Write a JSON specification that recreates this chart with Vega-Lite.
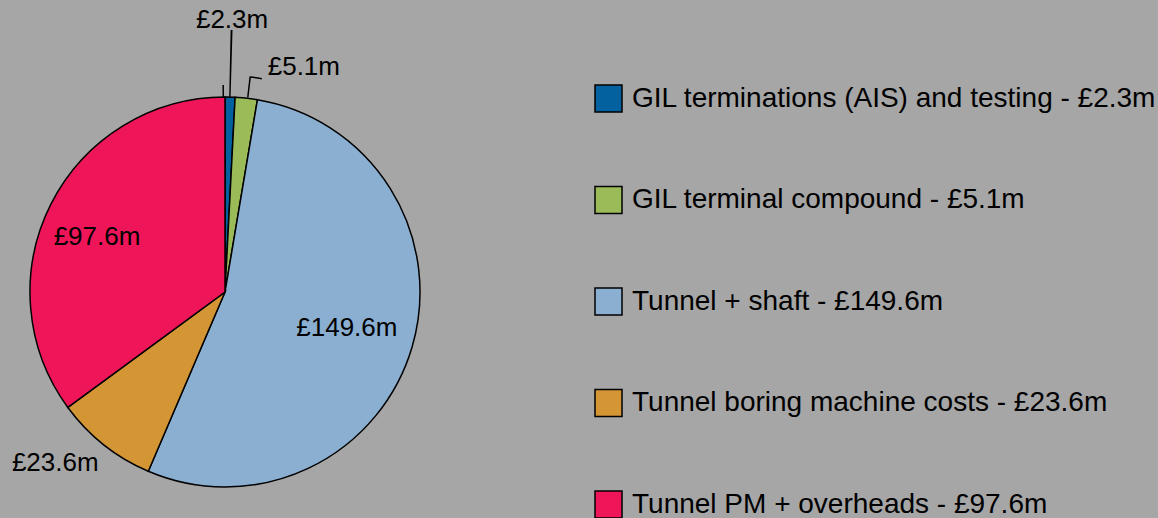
{
  "$schema": "https://vega.github.io/schema/vega-lite/v6.json",
  "width": 450,
  "height": 452,
  "autosize": {"type": "none"},
  "padding": {"left": 0, "top": 66, "right": 708, "bottom": 0},
  "background": "#a6a6a6",
  "config": {"view": {"stroke": null}, "font": "Liberation Sans"},
  "datasets": {
    "slices": [
      {"category": "GIL terminations (AIS) and testing - £2.3m", "label": "£2.3m", "value": 2.3, "ord": 1},
      {"category": "GIL terminal compound - £5.1m", "label": "£5.1m", "value": 5.1, "ord": 2},
      {"category": "Tunnel + shaft - £149.6m", "label": "£149.6m", "value": 149.6, "ord": 3},
      {"category": "Tunnel boring machine costs - £23.6m", "label": "£23.6m", "value": 23.6, "ord": 4},
      {"category": "Tunnel PM + overheads - £97.6m", "label": "£97.6m", "value": 97.6, "ord": 5}
    ],
    "leaders": [
      {"leader": "a", "t1": 0.95, "t2": 1.27},
      {"leader": "b", "t1": 5.0, "t2": 5.32},
      {"leader": "c", "t1": 5.18, "t2": 7.57},
      {"leader": "d", "t1": 277.65, "t2": 277.97}
    ]
  },
  "layer": [
    {
      "data": {"name": "slices"},
      "mark": {"type": "arc", "outerRadius": 195, "stroke": "black", "strokeWidth": 1.5},
      "encoding": {
        "theta": {"field": "value", "type": "quantitative", "stack": true},
        "order": {"field": "ord", "type": "quantitative"},
        "color": {
          "field": "category",
          "type": "nominal",
          "sort": null,
          "scale": {
            "domain": [
              "GIL terminations (AIS) and testing - £2.3m",
              "GIL terminal compound - £5.1m",
              "Tunnel + shaft - £149.6m",
              "Tunnel boring machine costs - £23.6m",
              "Tunnel PM + overheads - £97.6m"
            ],
            "range": ["#03619f", "#9bbb59", "#8aafd1", "#d49535", "#ef1559"]
          },
          "legend": {
            "orient": "none",
            "legendX": 594,
            "legendY": 18,
            "title": null,
            "padding": 0,
            "symbolType": "square",
            "symbolSize": 729,
            "symbolStrokeColor": "black",
            "symbolStrokeWidth": 1.5,
            "labelFontSize": 28,
            "labelFont": "Liberation Sans",
            "labelColor": "black",
            "labelOffset": 9,
            "labelLimit": 0,
            "rowPadding": 68.5
          }
        }
      }
    },
    {
      "data": {"name": "leaders"},
      "transform": [{"filter": "datum.leader == 'a'"}],
      "mark": {"type": "arc", "innerRadius": 195, "outerRadius": 262, "fill": "black"},
      "encoding": {"theta": {"field": "t1", "type": "quantitative"}, "theta2": {"field": "t2"}}
    },
    {
      "data": {"name": "leaders"},
      "transform": [{"filter": "datum.leader == 'b'"}],
      "mark": {"type": "arc", "innerRadius": 196, "outerRadius": 217, "fill": "black"},
      "encoding": {"theta": {"field": "t1", "type": "quantitative"}, "theta2": {"field": "t2"}}
    },
    {
      "data": {"name": "leaders"},
      "transform": [{"filter": "datum.leader == 'c'"}],
      "mark": {"type": "arc", "innerRadius": 215.7, "outerRadius": 217.2, "fill": "black"},
      "encoding": {"theta": {"field": "t1", "type": "quantitative"}, "theta2": {"field": "t2"}}
    },
    {
      "data": {"name": "leaders"},
      "transform": [{"filter": "datum.leader == 'd'"}],
      "mark": {"type": "arc", "innerRadius": 195, "outerRadius": 207, "fill": "black"},
      "encoding": {"theta": {"field": "t1", "type": "quantitative"}, "theta2": {"field": "t2"}}
    },
    {
      "data": {"name": "slices"},
      "mark": {"type": "text", "radius": 272, "fontSize": 26, "fill": "black", "baseline": "middle", "align": "center"},
      "encoding": {
        "theta": {"field": "value", "type": "quantitative", "stack": true},
        "order": {"field": "ord", "type": "quantitative"},
        "detail": {"field": "category"},
        "text": {"condition": {"test": "datum.ord == 1", "field": "label"}, "value": ""}
      }
    },
    {
      "data": {"name": "slices"},
      "mark": {"type": "text", "radius": 226, "dx": 18, "fontSize": 26, "fill": "black", "baseline": "middle", "align": "left"},
      "encoding": {
        "theta": {"field": "value", "type": "quantitative", "stack": true},
        "order": {"field": "ord", "type": "quantitative"},
        "detail": {"field": "category"},
        "text": {"condition": {"test": "datum.ord == 2", "field": "label"}, "value": ""}
      }
    },
    {
      "data": {"name": "slices"},
      "mark": {"type": "text", "radius": 127, "fontSize": 26, "fill": "black", "baseline": "middle", "align": "center"},
      "encoding": {
        "theta": {"field": "value", "type": "quantitative", "stack": true},
        "order": {"field": "ord", "type": "quantitative"},
        "detail": {"field": "category"},
        "text": {"condition": {"test": "datum.ord == 3", "field": "label"}, "value": ""}
      }
    },
    {
      "data": {"name": "slices"},
      "mark": {"type": "text", "radius": 220, "dx": -33, "dy": -1, "fontSize": 26, "fill": "black", "baseline": "middle", "align": "center"},
      "encoding": {
        "theta": {"field": "value", "type": "quantitative", "stack": true},
        "order": {"field": "ord", "type": "quantitative"},
        "detail": {"field": "category"},
        "text": {"condition": {"test": "datum.ord == 4", "field": "label"}, "value": ""}
      }
    },
    {
      "data": {"name": "slices"},
      "mark": {"type": "text", "radius": 139, "dx": -4, "dy": 8, "fontSize": 26, "fill": "black", "baseline": "middle", "align": "center"},
      "encoding": {
        "theta": {"field": "value", "type": "quantitative", "stack": true},
        "order": {"field": "ord", "type": "quantitative"},
        "detail": {"field": "category"},
        "text": {"condition": {"test": "datum.ord == 5", "field": "label"}, "value": ""}
      }
    }
  ]
}
